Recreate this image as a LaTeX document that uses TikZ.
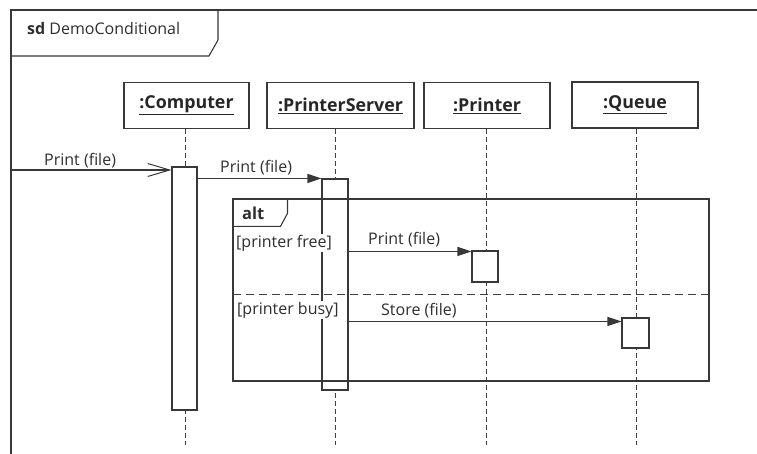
\documentclass[tikz,border=0pt]{standalone}
\usepackage{fontspec}
\setmainfont{Open Sans}
\usetikzlibrary{arrows.meta}
\begin{document}
\begin{tikzpicture}[x=1pt,y=-1pt,
  ink/.style={draw=black!78, line width=1.1pt},
  head/.style={ink, fill=white, minimum height=46pt, inner sep=0pt,
    font=\fontsize{17.8}{20}\selectfont\bfseries, text=black!85},
  act/.style={ink, fill=white, inner sep=0pt},
  lifeline/.style={draw=black!75, line width=1pt, dash pattern=on 5pt off 3pt},
  msg/.style={ink, -{Triangle[length=14pt,width=9pt]}},
  found/.style={ink, -{Straight Barb[length=22pt,width=13pt,line width=1pt]}},
  lbl/.style={font=\fontsize{16}{18}\selectfont, text=black!82, inner sep=0pt, anchor=west},
  guard/.style={lbl, fill=white, inner sep=1pt},
  sep/.style={draw=black!75, line width=1pt, dash pattern=on 8pt off 5pt},
]
\useasboundingbox (0,0) rectangle (757,454);

% outer sd frame and its name tab
\coordinate (frTL) at (11,10);
\coordinate (frTR) at (770,10);
\coordinate (frBL) at (11,470);
\draw[ink] (frTR) -- (frTL) -- (frBL);
\draw[ink] (218,10) -- (218,40) -- (209,56) -- (11,56);
\node[lbl] (sdname) at (27,29) {\textbf{sd} DemoConditional};

% lifeline heads
\node[head, minimum width=125pt] (comp)  at (186.5,105.5) {\underline{:Computer}};
\node[head, minimum width=147pt] (pserv) at (340.5,105.5) {\underline{:PrinterServer}};
\node[head, minimum width=126pt] (prn)   at (487,105.5)   {\underline{:Printer}};
\node[head, minimum width=126pt] (que)   at (635,105)     {\underline{:Queue}};

% lifelines
\coordinate (compEnd)  at (185,445);
\coordinate (pservEnd) at (335,445);
\coordinate (prnEnd)   at (486,445);
\coordinate (queEnd)   at (636,445);
\draw[lifeline] (comp.south -| compEnd) -- (compEnd);
\draw[lifeline] (pserv.south -| pservEnd) -- (pservEnd);
\draw[lifeline] (prn.south -| prnEnd) -- (prnEnd);
\draw[lifeline] (que.south -| queEnd) -- (queEnd);

% activation bars
\node[act, minimum width=25pt, minimum height=243pt] (a1) at (184.5,288.5) {};
\node[act, minimum width=26pt, minimum height=211pt] (a2) at (335,284.5) {};

% alt combined fragment
\node[ink, minimum width=476pt, minimum height=182pt, inner sep=0pt] (alt) at (471,290) {};
\draw[ink] ([xshift=55pt]alt.north west) -- ++(0,15) -- ++(-7,13) -- ++(-48,0);
\node[lbl, font=\fontsize{16.5}{18}\selectfont\bfseries] (altname) at (242,213) {alt};
\coordinate (sepL) at (233,294);
\coordinate (sepR) at (709,294);
\draw[sep] (sepL) -- (sepR);
\node[guard] (g1) at (235,243) {[printer free]};
\node[guard] (g2) at (236,310) {[printer busy]};

\node[act, minimum width=26pt, minimum height=31pt] (a3) at (485,266.5) {};
\node[act, minimum width=27pt, minimum height=30pt] (a4) at (635.5,333) {};

% messages
\coordinate (src) at (11,170);
\draw[found] (src) -- (src -| a1.west);
\node[lbl] (m1) at (44,161) {Print (file)};

\draw[msg] (a1.east |- a2.north) -- (a2.north west);
\node[lbl] (m2) at (220,168) {Print (file)};

\coordinate (t3) at ([yshift=-1pt]a3.north west);
\draw[msg] (a2.east |- t3) -- (t3);
\node[lbl] (m3) at (368,240) {Print (file)};

\coordinate (t4) at ([yshift=-4pt]a4.north west);
\draw[msg] (a2.east |- t4) -- (t4);
\node[lbl] (m4) at (381,311) {Store (file)};
\end{tikzpicture}
\end{document}
